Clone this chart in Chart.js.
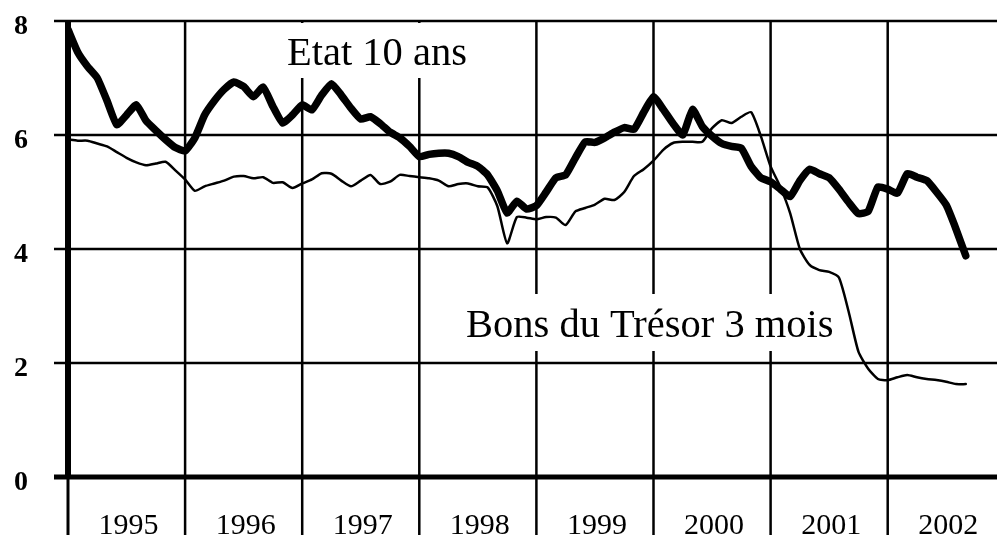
<!DOCTYPE html>
<html>
<head>
<meta charset="utf-8">
<script src="https://cdn.jsdelivr.net/npm/chart.js@4"></script>
<style>
  html, body { margin: 0; padding: 0; background: #fff; }
  canvas { display: block; }
</style>
</head>
<body>
<canvas id="taux" width="997" height="535"></canvas>
<script>
// monthly values, Jan 1995 -> Sep 2002
const etat10ans = [
  7.85, 7.45, 7.2, 7.0, 6.6, 6.18, 6.35, 6.53, 6.25, 6.08, 5.92, 5.78,
  5.72, 5.95, 6.35, 6.6, 6.8, 6.93, 6.85, 6.67, 6.84, 6.5, 6.21, 6.35,
  6.53, 6.44, 6.7, 6.9, 6.7, 6.47, 6.28, 6.32, 6.2, 6.05, 5.95, 5.8,
  5.62, 5.66, 5.68, 5.68, 5.62, 5.52, 5.45, 5.3, 5.02, 4.63, 4.84, 4.7,
  4.76, 5.0, 5.25, 5.3, 5.6, 5.88, 5.87, 5.95, 6.05, 6.13, 6.1, 6.4,
  6.67, 6.45, 6.2, 6.0, 6.45, 6.15, 5.98, 5.85, 5.8, 5.77, 5.45, 5.25,
  5.18, 5.05, 4.92, 5.2, 5.4, 5.32, 5.25, 5.05, 4.82, 4.62, 4.66, 5.09,
  5.05, 4.98, 5.32, 5.26, 5.2, 5.0, 4.77, 4.35, 3.88
];
const bonsTresor3mois = [
  5.92, 5.9, 5.9, 5.85, 5.8, 5.7, 5.6, 5.52, 5.47, 5.5, 5.53, 5.38,
  5.22, 5.02, 5.1, 5.15, 5.2, 5.27, 5.28, 5.24, 5.26, 5.16, 5.17, 5.07,
  5.15, 5.22, 5.33, 5.32, 5.2, 5.1, 5.2, 5.3, 5.14, 5.18, 5.3, 5.28,
  5.26, 5.24, 5.2, 5.1, 5.14, 5.15, 5.1, 5.08, 4.75, 4.1, 4.56, 4.55,
  4.52, 4.56, 4.55, 4.42, 4.66, 4.72, 4.78, 4.88, 4.86, 5.0, 5.28, 5.4,
  5.55, 5.74, 5.86, 5.88, 5.88, 5.88, 6.12, 6.26, 6.21, 6.32, 6.4, 5.98,
  5.45, 5.09, 4.63, 4.0, 3.72, 3.63, 3.6, 3.5, 2.9, 2.2, 1.9, 1.72,
  1.7, 1.75, 1.79, 1.75, 1.72, 1.7, 1.67, 1.63, 1.63
];
const years = ["1995", "1996", "1997", "1998", "1999", "2000", "2001", "2002"];
const yTicks = [0, 2, 4, 6, 8];

const startYear = 1995;
const toPoints = (arr) => arr.map((v, i) => ({ x: startYear + i / 12, y: v }));

const serif = '"Liberation Serif", "DejaVu Serif", serif';

const frame = {
  id: "frame",
  beforeDatasetsDraw(chart) {
    const { ctx, chartArea, scales: { x, y } } = chart;
    const bottom = chart.height;
    ctx.save();
    ctx.strokeStyle = "#000";
    ctx.fillStyle = "#000";

    // horizontal lines
    yTicks.forEach((v) => {
      const py = y.getPixelForValue(v);
      ctx.lineWidth = v === 0 ? 5 : 2.5;
      ctx.beginPath();
      ctx.moveTo(54, py);
      ctx.lineTo(chartArea.right, py);
      ctx.stroke();
    });

    // year separators, running down past the axis
    ctx.lineWidth = 2.5;
    for (let yr = startYear + 1; yr <= startYear + years.length; yr++) {
      const px = x.getPixelForValue(yr);
      if (px > chartArea.right) break;
      ctx.beginPath();
      ctx.moveTo(px, chartArea.top);
      ctx.lineTo(px, bottom);
      ctx.stroke();
    }

    // left axis
    const x0 = x.getPixelForValue(startYear);
    ctx.lineWidth = 6;
    ctx.beginPath();
    ctx.moveTo(x0, chartArea.top - 1);
    ctx.lineTo(x0, y.getPixelForValue(0));
    ctx.stroke();
    ctx.lineWidth = 3;
    ctx.beginPath();
    ctx.moveTo(x0, y.getPixelForValue(0));
    ctx.lineTo(x0, bottom);
    ctx.stroke();

    // y tick labels
    ctx.font = "bold 28px " + serif;
    ctx.textAlign = "center";
    ctx.textBaseline = "alphabetic";
    yTicks.forEach((v) => {
      ctx.fillText(String(v), 21, y.getPixelForValue(v) + 13);
    });

    // year labels, centred in each year (slightly cut by the bottom edge)
    ctx.font = "30px " + serif;
    years.forEach((lab, i) => {
      const px = x.getPixelForValue(startYear + i + 0.5) + 2;
      ctx.fillText(lab, px, bottom - 1);
    });

    // series labels on white patches
    ctx.font = "40.5px " + serif;
    ctx.textAlign = "left";
    ctx.fillStyle = "#fff";
    ctx.fillRect(280, 23, 194, 55);
    ctx.fillRect(458, 294, 384, 57);
    ctx.fillStyle = "#000";
    ctx.fillText("Etat 10 ans", 287, 65);
    ctx.fillText("Bons du Trésor 3 mois", 466, 337);

    ctx.restore();
  }
};

new Chart(document.getElementById("taux").getContext("2d"), {
  type: "line",
  data: {
    datasets: [
      {
        label: "Etat 10 ans",
        data: toPoints(etat10ans),
        borderColor: "#000",
        borderWidth: 7.5,
        borderJoinStyle: "round",
        borderCapStyle: "round",
        pointRadius: 0,
        tension: 0.15
      },
      {
        label: "Bons du Trésor 3 mois",
        data: toPoints(bonsTresor3mois),
        borderColor: "#000",
        borderWidth: 2.5,
        borderJoinStyle: "round",
        borderCapStyle: "round",
        pointRadius: 0,
        tension: 0.2
      }
    ]
  },
  options: {
    responsive: false,
    animation: false,
    devicePixelRatio: 1,
    layout: { padding: { left: 68, right: 0, top: 21, bottom: 58 } },
    plugins: {
      legend: { display: false },
      tooltip: { enabled: false },
      title: { display: false }
    },
    scales: {
      x: { type: "linear", min: 1995, max: 1995 + 929 / 117.1, display: false },
      y: { min: 0, max: 8, display: false }
    }
  },
  plugins: [frame]
});
</script>
</body>
</html>
